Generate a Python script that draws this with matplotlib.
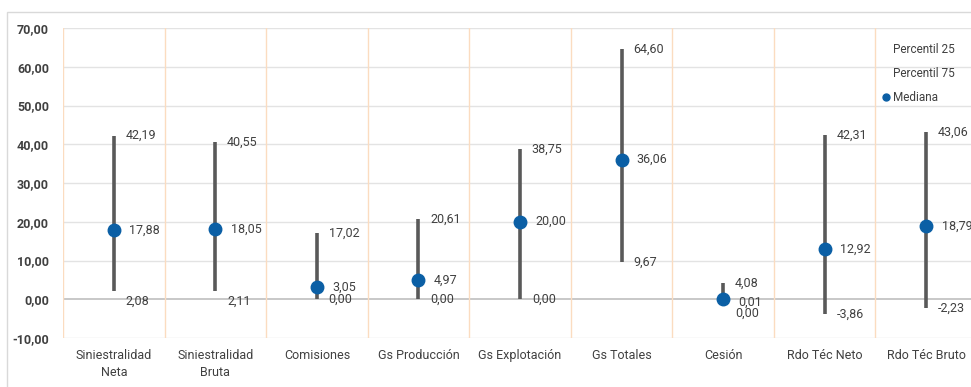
import matplotlib.pyplot as plt
from matplotlib.lines import Line2D
from matplotlib.patches import Rectangle

plt.rcParams['font.family'] = ['Roboto', 'DejaVu Sans']

# Datos del gráfico
categorias = ['Siniestralidad\nNeta', 'Siniestralidad\nBruta', 'Comisiones', 'Gs Producción',
              'Gs Explotación', 'Gs Totales', 'Cesión', 'Rdo Téc Neto', 'Rdo Téc Bruto']
p25 = [2.08, 2.11, 0.00, 0.00, 0.00, 9.67, 0.00, -3.86, -2.23]
p75 = [42.19, 40.55, 17.02, 20.61, 38.75, 64.60, 4.08, 42.31, 43.06]
mediana = [17.88, 18.05, 3.05, 4.97, 20.00, 36.06, 0.01, 12.92, 18.79]

def fmt(v):
    return f'{v:.2f}'.replace('.', ',')

fig = plt.figure(figsize=(9.71, 3.87), dpi=100)
fig.patches.append(Rectangle((7 / 971, -0.1), 1.0, (387 - 12) / 387 + 0.1,
                             transform=fig.transFigure, fill=False,
                             edgecolor='#d9d9d9', linewidth=1))
ax = fig.add_axes([63 / 971, 49 / 387, 914 / 971, 310 / 387])

x = list(range(len(categorias)))
txt_col = '#404040'

# Rejilla
for y in range(-10, 71, 10):
    ax.axhline(y, color='#bfbfbf' if y == 0 else '#e3e3e3', lw=1.2 if y == 0 else 1, zorder=0)
for b in range(len(categorias) + 1):
    ax.axvline(b - 0.5, color='#fbdcc0', lw=1, zorder=0)

# Rangos y medianas
ax.vlines(x, p25, p75, color='#595959', lw=2.6, zorder=2)
ax.plot(x, mediana, 'o', color='#0b5fa5', ms=9, zorder=3)

# Etiquetas de datos (desplazamientos verticales en puntos)
off_p75 = [0] * 9
off_med = [0] * 9
off_p25 = [0] * 9
off_p25[0] = -7
off_p25[1] = -7
off_med[6] = -2
off_p25[6] = -10
for i in x:
    ax.annotate(fmt(p75[i]), (i, p75[i]), xytext=(8.5, off_p75[i]), textcoords='offset points',
                ha='left', va='center', fontsize=9, color=txt_col)
    ax.annotate(fmt(mediana[i]), (i, mediana[i]), xytext=(11, off_med[i]), textcoords='offset points',
                ha='left', va='center', fontsize=9, color=txt_col)
    ax.annotate(fmt(p25[i]), (i, p25[i]), xytext=(8.5, off_p25[i]), textcoords='offset points',
                ha='left', va='center', fontsize=9, color=txt_col)

ax.set_xlim(-0.5, len(categorias) - 0.5)
ax.set_ylim(-10, 70)
ax.set_yticks(range(-10, 71, 10))
ax.set_yticklabels([fmt(v) for v in range(-10, 71, 10)], fontweight='bold', fontsize=9, color=txt_col)
ax.set_xticks(x)
ax.set_xticklabels(categorias, fontsize=9, color=txt_col, linespacing=1.4)
ax.tick_params(length=0, pad=8)
ax.tick_params(axis='y', pad=10)
for s in ax.spines.values():
    s.set_visible(False)

handles = [Line2D([], [], linestyle='none', marker=None),
           Line2D([], [], linestyle='none', marker=None),
           Line2D([], [], linestyle='none', marker='o', color='#0b5fa5', ms=5)]
leg = fig.legend(handles, ['Percentil 25', 'Percentil 75', 'Mediana'], loc='upper left',
                 bbox_to_anchor=(872 / 971, 1 - 32 / 387), frameon=False, fontsize=8.5,
                 handlelength=0.6, handletextpad=0.3, labelspacing=0.95, labelcolor=txt_col)

fig.savefig('out.png', dpi=100)
